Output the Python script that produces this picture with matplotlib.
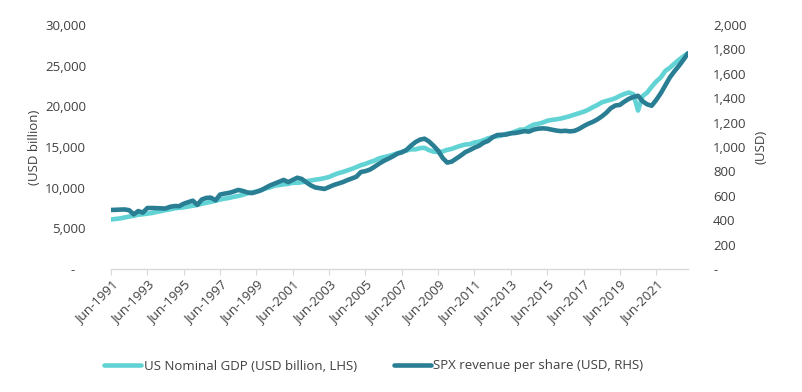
import matplotlib
matplotlib.use("Agg")
import matplotlib.pyplot as plt
import numpy as np
import pandas as pd

plt.rcParams['font.family'] = ['Open Sans', 'DejaVu Sans']

# quarterly, Jun-1991 .. Mar-2023
quarters = pd.period_range('1991Q2', '2023Q1', freq='Q')

gdp = [6092, 6153, 6219,
       6338, 6442, 6548, 6670,
       6729, 6809, 6883, 7013,
       7116, 7246, 7332, 7457,
       7523, 7582, 7684, 7772,
       7869, 8023, 8138, 8264,
       8387, 8537, 8648, 8739,
       8872, 8975, 9116, 9298,
       9412, 9527, 9688, 9896,
       10031, 10251, 10317, 10407,
       10470, 10599, 10599, 10660,
       10784, 10888, 10985, 11062,
       11174, 11312, 11567, 11770,
       11923, 12112, 12305, 12527,
       12767, 12922, 13143, 13325,
       13599, 13753, 13871, 14040,
       14216, 14403, 14564, 14715,
       14707, 14865, 14899, 14608,
       14430, 14382, 14448, 14652,
       14765, 14981, 15162, 15309,
       15351, 15558, 15647, 15842,
       16068, 16207, 16320, 16420,
       16629, 16700, 16911, 17134,
       17144, 17462, 17743, 17852,
       18000, 18220, 18330, 18400,
       18500, 18640, 18800, 18980,
       19160, 19330, 19560, 19880,
       20150, 20480, 20660, 20810,
       21000, 21290, 21530, 21700,
       21480, 19480, 21250, 21690,
       22400, 23050, 23550, 24350,
       24740, 25250, 25720, 26140,
       26530]

spx_rev = [484, 485, 487,
           488, 482, 448, 475,
           462, 500, 500, 499,
           497, 496, 510, 516,
           515, 535, 548, 560,
           526, 570, 583, 585,
           562, 610, 618, 624,
           635, 648, 640, 628,
           622, 632, 645, 665,
           685, 700, 715, 730,
           712, 730, 748, 738,
           710, 685, 668, 662,
           656, 672, 688, 700,
           712, 728, 742, 756,
           795, 802, 815, 838,
           863, 885, 903, 922,
           945, 956, 975, 1010,
           1040, 1060, 1068, 1045,
           1010, 970, 910, 872,
           880, 905, 930, 958,
           975, 995, 1010, 1035,
           1050, 1080, 1098, 1100,
           1102, 1112, 1115, 1122,
           1130, 1126, 1142, 1150,
           1153, 1150, 1142, 1135,
           1130, 1133, 1128, 1132,
           1148, 1170, 1190, 1205,
           1225, 1250, 1280, 1318,
           1340, 1345, 1372, 1395,
           1410, 1420, 1375, 1350,
           1338, 1385, 1440, 1505,
           1570, 1620, 1665, 1715,
           1768]

gdp_color = "#62d3d5"
spx_color = "#2a7e94"
text_color = "#404040"

x = np.arange(len(quarters))
tick_pos = x[::8]
tick_labels = ['Jun-' + str(q.year) for q in quarters[::8]]

fig = plt.figure(figsize=(8.03, 3.92), dpi=100)
ax = fig.add_axes([111/803, 1 - 269/392, (688 - 111)/803, (269 - 25)/392])
ax2 = ax.twinx()

l1, = ax.plot(x, gdp, color=gdp_color, lw=3.3, solid_capstyle='round', zorder=2)
l2, = ax2.plot(x, spx_rev, color=spx_color, lw=3.3, solid_capstyle='round', zorder=3)

ax.set_xlim(0, len(x) - 1)
ax.set_ylim(0, 30000)
ax2.set_ylim(0, 2000)
ax.set_yticks(np.arange(0, 30001, 5000))
ax2.set_yticks(np.arange(0, 2001, 200))
ax.set_yticklabels(['-   ' if v == 0 else f'{v:,.0f}' for v in ax.get_yticks()])
ax2.set_yticklabels(['-' if v == 0 else f'{v:,.0f}' for v in ax2.get_yticks()])

ax.set_xticks(tick_pos)
ax.set_xticklabels(tick_labels, rotation=45, ha='right', rotation_mode='anchor')

for a in (ax, ax2):
    for s in ('top', 'left', 'right'):
        a.spines[s].set_visible(False)
    a.spines['bottom'].set_color('#d9d9d9')
    a.spines['bottom'].set_linewidth(1.0)
    a.tick_params(axis='y', length=0, labelsize=9.5, labelcolor=text_color, pad=18)
ax.tick_params(axis='x', length=4, color='#d9d9d9', labelsize=9.5, labelcolor=text_color, pad=3)
ax2.spines['bottom'].set_visible(False)

ax.set_ylabel('(USD billion)', fontsize=9.5, color=text_color, labelpad=3)
ax2.set_ylabel('(USD)', fontsize=9.5, color=text_color, labelpad=6)

fig.legend([l1, l2], ['US Nominal GDP (USD billion, LHS)', 'SPX revenue per share (USD, RHS)'],
           loc='center left', bbox_to_anchor=(104/803, 1 - 366/392), ncol=2, frameon=False,
           fontsize=9.5, labelcolor=text_color, handlelength=2.8, handletextpad=0.2,
           columnspacing=2.8, borderpad=0, borderaxespad=0)

plt.savefig("out.png", dpi=100)
